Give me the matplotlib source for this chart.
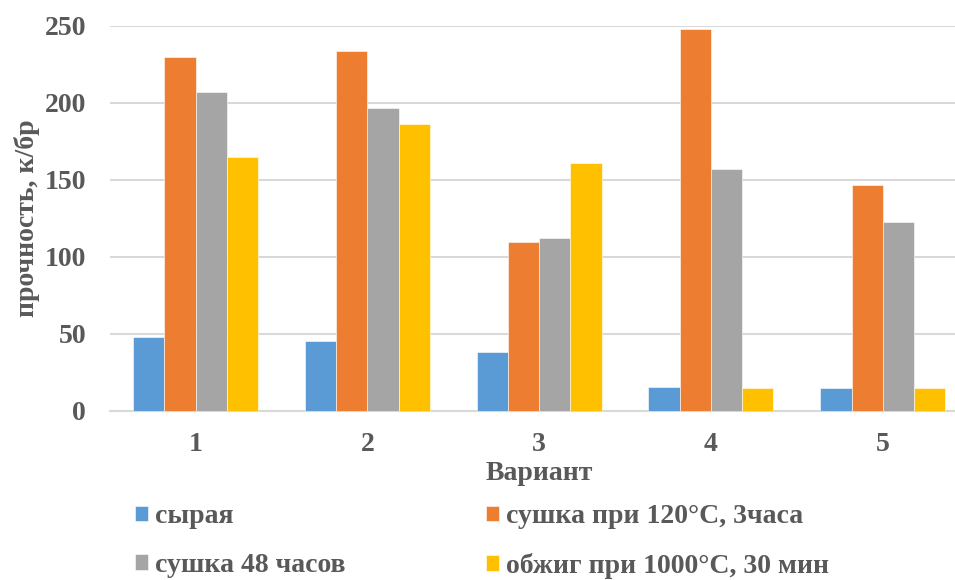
import numpy as np
import matplotlib
matplotlib.use("Agg")
import matplotlib.pyplot as plt

categories = ["1", "2", "3", "4", "5"]
series_names = ["сырая", "сушка при 120°С, 3часа", "сушка 48 часов", "обжиг при 1000°С, 30 мин"]
raw = [48, 45.5, 38.5, 15.5, 15]
dry_120 = [230, 234, 110, 248, 147]
dry_48h = [207, 197, 112, 157, 122.5]
fired = [165, 186, 161, 15, 15]
colors = ["#5B9BD5", "#ED7D31", "#A5A5A5", "#FFC000"]

TXT = "#595959"
FS = 20
plt.rcParams['font.family'] = ['Liberation Serif', 'DejaVu Serif']
plt.rcParams['font.weight'] = 'bold'
plt.rcParams['axes.labelweight'] = 'bold'

fig = plt.figure(figsize=(9.55, 5.8), dpi=100)
ax = fig.add_axes([0.1148, 0.2914, 0.8995, 0.664])

x = np.arange(len(categories))
width = 0.727 / 4
all_series = [raw, dry_120, dry_48h, fired]
for k, (vals, name, col) in enumerate(zip(all_series, series_names, colors)):
    ax.bar(x + (k - 1.5) * width, vals, width, color=col, label=name,
           edgecolor="white", linewidth=0.4, zorder=3)

ax.set_xlim(-0.5, 4.5)
ax.set_ylim(0, 250)
ax.set_yticks(range(0, 251, 50))
ax.set_xticks(x)
ax.set_xticklabels(categories)
ax.grid(axis="y", color="#D9D9D9", linewidth=1.5, zorder=0)
for s in ["top", "right", "left"]:
    ax.spines[s].set_visible(False)
ax.spines["bottom"].set_color("#D9D9D9")
ax.spines["bottom"].set_linewidth(1.5)
ax.tick_params(length=0, labelsize=FS, colors=TXT)
ax.tick_params(axis="y", pad=17)
ax.tick_params(axis="x", pad=15)
ax.set_xlabel("Вариант", fontsize=FS, color=TXT, labelpad=3)
ax.set_ylabel("прочность, к/бр", fontsize=FS, color=TXT, labelpad=3)

# legend filled row by row, as in the reference
handles, labels = ax.get_legend_handles_labels()
order = [0, 2, 1, 3]
fig.legend([handles[i] for i in order], [labels[i] for i in order], ncol=2,
           loc="lower left", bbox_to_anchor=(0.1154, -0.041),
           frameon=False, fontsize=FS, labelcolor=TXT,
           handlelength=0.47, handleheight=0.47, handletextpad=0.25,
           columnspacing=5.04, labelspacing=0.85)

fig.savefig("out.png", dpi=100)
